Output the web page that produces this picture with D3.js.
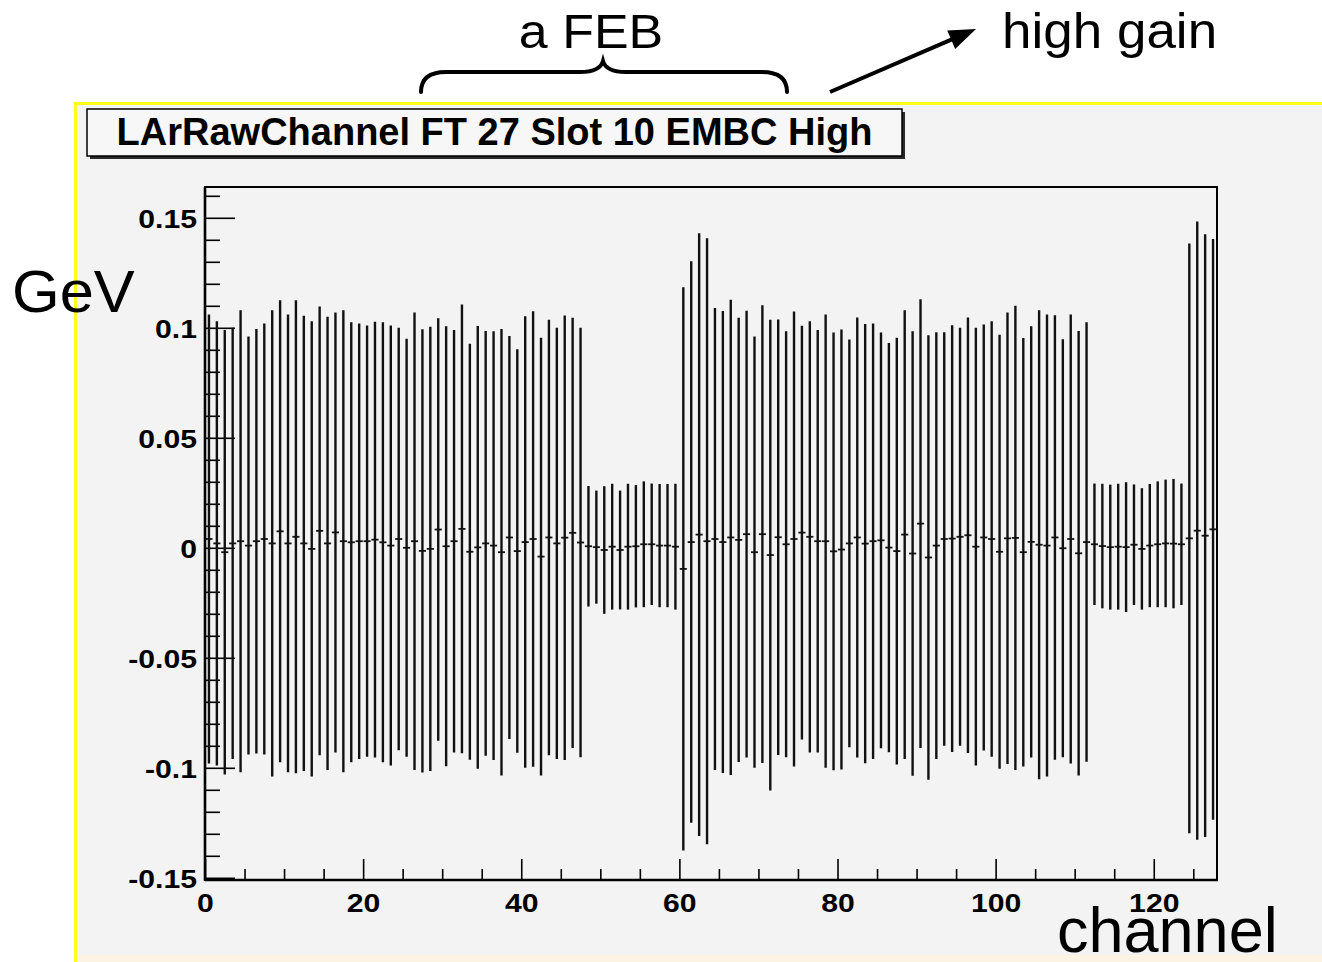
<!DOCTYPE html>
<html>
<head>
<meta charset="utf-8">
<script src="https://cdn.jsdelivr.net/npm/d3@7"></script>
<style>
  html, body { margin: 0; padding: 0; background: #ffffff; }
  svg { display: block; }
  text { font-family: "Liberation Sans", Arial, Helvetica, sans-serif; }
</style>
</head>
<body>
<svg id="chart" width="1322" height="962"></svg>
<script>
// ---------------- DATA ----------------
const titleText = "LArRawChannel FT 27 Slot 10 EMBC High";
const channels = d3.range(128); // channel index (bins 0..127)

const means = [
  0.004, 0.002, -0.002, 0.002, 0.003, 0.001, 0.003, 0.004, 0.002, 0.0075,
  0.002, 0.005, 0.002, -0.0005, 0.0077, 0.002, 0.007, 0.003, 0.0025, 0.003,
  0.003, 0.0037, 0.0025, 0.001, 0.004, 0.0, 0.003, -0.0014, -0.0005, 0.0083,
  0.0007, 0.003, 0.0086, -0.0018, 0.0002, 0.002, 0.001, -0.002, 0.0047, -0.0015,
  0.0026, 0.004, -0.004, 0.0047, 0.002, 0.0046, 0.0068, 0.0024, 0.0007, 0.0003,
  -0.001, 0.0005, -0.001, 0.0005, 0.0007, 0.0016, 0.0016, 0.001, 0.001, 0.0005,
  -0.0096, 0.0026, 0.006, 0.003, 0.004, 0.0026, 0.0047, 0.0036, 0.0062, -0.002,
  0.0062, -0.0033, 0.0048, 0.0016, 0.004, 0.0069, 0.005, 0.003, 0.003, -0.0016,
  -0.0008, 0.002, 0.0047, 0.0019, 0.003, 0.0034, 0.0001, -0.0015, 0.006, -0.0026,
  0.011, -0.0044, 0.001, 0.004, 0.0042, 0.005, 0.0057, 0.0005, 0.0047, 0.004,
  -0.0018, 0.0043, 0.0045, -0.002, 0.0027, 0.0014, 0.001, 0.0047, -0.0002, 0.004,
  -0.0025, 0.0026, 0.0016, 0.0008, 0.0003, 0.0005, 0.0003, 0.0014, -0.0005, 0.001,
  0.0016, 0.002, 0.0019, 0.0016, 0.0043, 0.0078, 0.0055, 0.0084
];

const errors = [
  0.102, 0.101, 0.101, 0.098, 0.105, 0.095, 0.0965, 0.098, 0.106, 0.105,
  0.104, 0.1075, 0.1035, 0.1035, 0.102, 0.103, 0.100, 0.105, 0.100, 0.099,
  0.098, 0.099, 0.100, 0.100, 0.096, 0.095, 0.104, 0.1007, 0.101, 0.096,
  0.100, 0.096, 0.102, 0.0945, 0.1006, 0.0965, 0.0974, 0.1015, 0.0916, 0.0917,
  0.1026, 0.1035, 0.0995, 0.099, 0.098, 0.101, 0.0978, 0.0976, 0.0274, 0.0257,
  0.029, 0.0286, 0.027, 0.0286, 0.0278, 0.0286, 0.0276, 0.028, 0.028, 0.0286,
  0.128, 0.1276, 0.137, 0.1377, 0.105, 0.105, 0.108, 0.101, 0.1015, 0.098,
  0.104, 0.107, 0.099, 0.0968, 0.1034, 0.094, 0.098, 0.096, 0.103, 0.0995,
  0.100, 0.0927, 0.100, 0.0998, 0.099, 0.0945, 0.093, 0.097, 0.102, 0.101,
  0.102, 0.101, 0.097, 0.094, 0.097, 0.095, 0.099, 0.0995, 0.0968, 0.099,
  0.0986, 0.1026, 0.1055, 0.0974, 0.098, 0.1066, 0.105, 0.101, 0.095, 0.102,
  0.101, 0.0999, 0.0276, 0.0283, 0.0284, 0.0286, 0.0295, 0.0274, 0.0276, 0.028,
  0.0286, 0.029, 0.0294, 0.0276, 0.134, 0.1405, 0.137, 0.132
];

const xDomain = [0, 128];
const yDomain = [-0.151, 0.164];
const xMajorTicks = [0, 20, 40, 60, 80, 100, 120];
const xTickLabels = ["0", "20", "40", "60", "80", "100", "120"];
const xMinorTicks = [5, 10, 15, 25, 30, 35, 45, 50, 55, 65, 70, 75, 85, 90, 95, 105, 110, 115, 125];
const yMajorTicks = [-0.15, -0.1, -0.05, 0, 0.05, 0.1, 0.15];
const yTickLabels = ["-0.15", "-0.1", "-0.05", "0", "0.05", "0.1", "0.15"];
const yMinorTicks = [-0.14, -0.13, -0.12, -0.11, -0.09, -0.08, -0.07, -0.06, -0.04, -0.03, -0.02, -0.01,
                     0.01, 0.02, 0.03, 0.04, 0.06, 0.07, 0.08, 0.09, 0.11, 0.12, 0.13, 0.14, 0.16];

const annFEB = "a FEB";
const annGain = "high gain";
const yUnit = "GeV";
const xUnit = "channel";

// ---------------- LAYOUT ----------------
const svg = d3.select("#chart");
const W = 1322, H = 962;
const plot = { left: 205, right: 1217, top: 187, bottom: 880 };

svg.append("rect").attr("x", 0).attr("y", 0).attr("width", W).attr("height", H).attr("fill", "#ffffff");

// ROOT canvas
svg.append("rect").attr("x", 75).attr("y", 102).attr("width", W - 75).attr("height", H - 102)
  .attr("fill", "#f3f3f3");
svg.append("rect").attr("x", 77).attr("y", 955).attr("width", W - 77).attr("height", 7)
  .attr("fill", "#fcf3e3");
svg.append("line").attr("x1", 74).attr("x2", W).attr("y1", 103.5).attr("y2", 103.5)
  .attr("stroke", "#ffff1a").attr("stroke-width", 3);
svg.append("line").attr("x1", 75.5).attr("x2", 75.5).attr("y1", 102).attr("y2", H)
  .attr("stroke", "#ffff1a").attr("stroke-width", 3);

// scales
const x = d3.scaleLinear().domain(xDomain).range([plot.left, plot.right]);
const y = d3.scaleLinear().domain(yDomain).range([plot.bottom, plot.top]);

// frame
svg.append("rect")
  .attr("x", plot.left).attr("y", plot.top)
  .attr("width", plot.right - plot.left).attr("height", plot.bottom - plot.top)
  .attr("fill", "#f3f3f3").attr("stroke", "#000").attr("stroke-width", 2);

// ---------------- AXES ----------------
const stretch = 1.16;
svg.append("g").attr("transform", `translate(${plot.left},0)`)
  .call(d3.axisLeft(y).tickValues(yMinorTicks).tickSize(-15).tickSizeOuter(0).tickFormat(""))
  .call(g => g.select(".domain").remove())
  .call(g => g.selectAll(".tick line").attr("stroke", "#000").attr("stroke-width", 1.6));
const yAx = svg.append("g").attr("transform", `translate(${plot.left},0)`)
  .call(d3.axisLeft(y).tickValues(yMajorTicks).tickSize(-30).tickSizeOuter(0).tickPadding(0)
    .tickFormat((d, i) => yTickLabels[i]));
yAx.select(".domain").remove();
yAx.selectAll(".tick line").attr("stroke", "#000").attr("stroke-width", 1.6);
yAx.selectAll(".tick text")
  .attr("x", null).attr("dy", null)
  .attr("transform", `translate(-8,10) scale(${stretch},1)`)
  .attr("text-anchor", "end")
  .attr("fill", "#000")
  .attr("font-size", 26).attr("font-weight", "bold")
  .style("font-family", "'Liberation Sans', Arial, sans-serif");

svg.append("g").attr("transform", `translate(0,${plot.bottom})`)
  .call(d3.axisBottom(x).tickValues(xMinorTicks).tickSize(-11).tickSizeOuter(0).tickFormat(""))
  .call(g => g.select(".domain").remove())
  .call(g => g.selectAll(".tick line").attr("stroke", "#000").attr("stroke-width", 1.6));
const xAx = svg.append("g").attr("transform", `translate(0,${plot.bottom})`)
  .call(d3.axisBottom(x).tickValues(xMajorTicks).tickSize(-21).tickSizeOuter(0)
    .tickFormat((d, i) => xTickLabels[i]));
xAx.select(".domain").remove();
xAx.selectAll(".tick line").attr("stroke", "#000").attr("stroke-width", 1.6);
xAx.selectAll(".tick text")
  .attr("y", null).attr("dy", null)
  .attr("transform", `translate(0,32) scale(${stretch},1)`)
  .attr("text-anchor", "middle")
  .attr("fill", "#000")
  .attr("font-size", 26).attr("font-weight", "bold")
  .style("font-family", "'Liberation Sans', Arial, sans-serif");

svg.append("line").attr("x1", plot.left).attr("x2", plot.left).attr("y1", plot.top).attr("y2", plot.bottom + 1)
  .attr("stroke", "#000").attr("stroke-width", 2.6);
svg.append("line").attr("x1", plot.left).attr("x2", plot.right + 1).attr("y1", plot.bottom).attr("y2", plot.bottom)
  .attr("stroke", "#000").attr("stroke-width", 2.6);

// ---------------- ERROR BARS ----------------
const bars = svg.append("g");
bars.selectAll("line.err").data(channels).join("line")
  .attr("class", "err")
  .attr("x1", i => x(i + 0.5)).attr("x2", i => x(i + 0.5))
  .attr("y1", i => y(means[i] + errors[i])).attr("y2", i => y(means[i] - errors[i]))
  .attr("stroke", "#111").attr("stroke-width", 2.4);
bars.selectAll("line.mean").data(channels).join("line")
  .attr("class", "mean")
  .attr("x1", i => x(i) + 0.4).attr("x2", i => x(i + 1) - 0.4)
  .attr("y1", i => y(means[i])).attr("y2", i => y(means[i]))
  .attr("stroke", "#111").attr("stroke-width", 1.8);

// ---------------- TITLE BOX ----------------
svg.append("rect").attr("x", 90).attr("y", 112).attr("width", 815).attr("height", 47)
  .attr("fill", "#2a2a2a");
svg.append("rect").attr("x", 87).attr("y", 109).attr("width", 815).attr("height", 47)
  .attr("fill", "#f7f7f7").attr("stroke", "#000").attr("stroke-width", 1.5);
svg.append("text").attr("x", 494.5).attr("y", 145)
  .attr("text-anchor", "middle").attr("font-size", 38).attr("font-weight", "bold")
  .attr("fill", "#000").text(titleText);

// ---------------- ANNOTATIONS ----------------
svg.append("text").attr("transform", "translate(591,48) scale(1.06,1)")
  .attr("text-anchor", "middle").attr("font-size", 49).attr("fill", "#000").text(annFEB);
svg.append("text").attr("transform", "translate(1002,48) scale(1.06,1)")
  .attr("text-anchor", "start").attr("font-size", 50).attr("fill", "#000").text(annGain);
svg.append("text").attr("transform", "translate(12,312) scale(1.04,1)")
  .attr("text-anchor", "start").attr("font-size", 59).attr("fill", "#000").text(yUnit);
svg.append("text").attr("transform", "translate(1057,952)")
  .attr("text-anchor", "start").attr("font-size", 63).attr("fill", "#000").text(xUnit);

// brace
svg.append("path")
  .attr("d", "M421,92 Q421,72 446,72 L580,72 Q600,72 603,61 Q606,72 626,72 L762,72 Q787,72 787,92")
  .attr("fill", "none").attr("stroke", "#000").attr("stroke-width", 4).attr("stroke-linecap", "round");

// arrow
const tip = [976, 29], tail = [830, 92];
const dx = tip[0] - tail[0], dy = tip[1] - tail[1], L = Math.hypot(dx, dy);
const ux = dx / L, uy = dy / L, px = -uy, py = ux;
const headL = 27, headW = 10;
const bx = tip[0] - headL * ux, by = tip[1] - headL * uy;
svg.append("line").attr("x1", tail[0]).attr("y1", tail[1]).attr("x2", bx + 2 * ux).attr("y2", by + 2 * uy)
  .attr("stroke", "#000").attr("stroke-width", 4);
svg.append("path")
  .attr("d", `M${tip[0]},${tip[1]} L${bx + headW * px},${by + headW * py} L${bx - headW * px},${by - headW * py} Z`)
  .attr("fill", "#000");
</script>
</body>
</html>
